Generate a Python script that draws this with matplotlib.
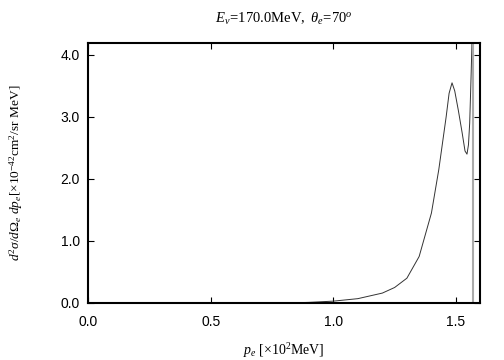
import matplotlib.pyplot as plt
import numpy as np

plt.rcParams['mathtext.fontset'] = 'custom'
plt.rcParams['mathtext.rm'] = 'Liberation Serif'
plt.rcParams['mathtext.it'] = 'Liberation Serif:italic'
plt.rcParams['font.family'] = 'Liberation Sans'

# cross section vs electron momentum
p_e = [0.81, 0.9, 1.0, 1.1, 1.2, 1.25, 1.3, 1.35, 1.4, 1.43, 1.46, 1.472,
       1.484, 1.495, 1.51, 1.525, 1.537, 1.545, 1.551, 1.556, 1.562, 1.566]
xsec = [0.0, 0.01, 0.03, 0.07, 0.16, 0.25, 0.4, 0.75, 1.45, 2.15, 3.0, 3.38,
        3.55, 3.42, 3.1, 2.75, 2.45, 2.4, 2.55, 2.9, 3.7, 4.3]
p_max = 1.568  # kinematic limit (gray line)

fig = plt.figure(figsize=(5.04, 3.6), dpi=100)
ax = fig.add_axes([88/504, 1-303/360, (479.5-88)/504, (303-42.5)/360])

ax.plot(p_e, xsec, color='#333333', lw=0.7)
ax.axvline(p_max, color='#aaaaaa', lw=1.5)

ax.set_xlim(0, 1.596)
ax.set_ylim(0, 4.2)
ax.set_xticks([0.0, 0.5, 1.0, 1.5])
ax.set_yticks([0.0, 1.0, 2.0, 3.0, 4.0])
ax.xaxis.set_major_formatter(plt.FormatStrFormatter('%.1f'))
ax.yaxis.set_major_formatter(plt.FormatStrFormatter('%.1f'))
ax.tick_params(direction='in', top=True, right=True, length=4, width=0.8,
               labelsize=10)
ax.tick_params(axis='x', pad=9)
ax.tick_params(axis='y', pad=6)
for s in ax.spines.values():
    s.set_linewidth(1.5)

ax.set_title(r'$E_\nu\!=\!170.0\mathrm{MeV},\ \theta_e\!=\!70^o$', fontsize=10.5, pad=14)
ax.set_xlabel(r'$p_e\ [\times10^2\mathrm{MeV}]$', fontsize=10)
ax.xaxis.set_label_coords(0.5, -0.145)
ax.set_ylabel(r'$d^2\sigma/d\Omega_e\ dp_e[\times10^{-42}\mathrm{cm}^2\mathrm{/sr\ MeV}]$',
              fontsize=9.6)
ax.yaxis.set_label_coords(-0.16, 0.5)

plt.savefig('out.png', dpi=100)
